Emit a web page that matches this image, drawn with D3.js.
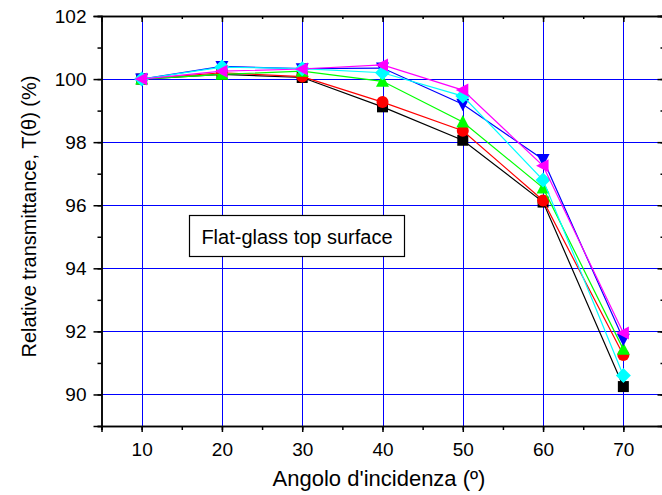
<!DOCTYPE html>
<html>
<head>
<meta charset="utf-8">
<script src="https://cdn.jsdelivr.net/npm/d3@7"></script>
<style>
	body { margin: 0; background: #fff; }
	svg text { font-family: "Liberation Sans", Arial, sans-serif; fill: #000; }
</style>
</head>
<body>
<svg id="chart" width="662" height="495"></svg>
<script>

// data
var angles = [10, 20, 30, 40, 50, 60, 70];
var s_black   = [100.0, 100.15, 100.05, 99.12, 98.06, 96.1, 90.25];
var s_red     = [100.0, 100.2, 100.08, 99.27, 98.36, 96.15, 91.25];
var s_green   = [100.0, 100.15, 100.25, 99.93, 98.64, 96.55, 91.43];
var s_blue    = [100.0, 100.4, 100.33, 100.35, 99.2, 97.45, 91.75];
var s_cyan    = [100.0, 100.38, 100.33, 100.2, 99.46, 96.8, 90.6];
var s_magenta = [100.0, 100.25, 100.32, 100.45, 99.65, 97.25, 91.95];

var xTicks = [10, 20, 30, 40, 50, 60, 70];
var yTicks = [90, 92, 94, 96, 98, 100, 102];

var series = [
	{ values: s_black,   color: "#000000", shape: "square" },
	{ values: s_red,     color: "#ff0000", shape: "circle" },
	{ values: s_green,   color: "#00ff00", shape: "up" },
	{ values: s_blue,    color: "#0000ff", shape: "down" },
	{ values: s_cyan,    color: "#00ffff", shape: "diamond" },
	{ values: s_magenta, color: "#ff00ff", shape: "left" }
];

var svg = d3.select("#chart");
var pLeft = 101.5, pRight = 663.5, pTop = 16, pBottom = 426;

var x = d3.scaleLinear().domain([5, 75]).range([pLeft, pRight]);
var y = d3.scaleLinear().domain([89, 102]).range([pBottom, pTop]);

// grid
var grid = svg.append("g");
grid.selectAll(".gx").data(xTicks).enter().append("line")
	.attr("x1", function(d) { return Math.round(x(d)) + 0.5; })
	.attr("x2", function(d) { return Math.round(x(d)) + 0.5; })
	.attr("y1", pTop).attr("y2", pBottom)
	.attr("stroke", "#0000ff").attr("stroke-width", 1);
grid.selectAll(".gy").data(yTicks.filter(function(d) { return d < 102; })).enter().append("line")
	.attr("y1", function(d) { return Math.round(y(d)) + 0.5; })
	.attr("y2", function(d) { return Math.round(y(d)) + 0.5; })
	.attr("x1", pLeft).attr("x2", pRight)
	.attr("stroke", "#0000ff").attr("stroke-width", 1);

// axes
var xMinor = d3.range(5, 76, 5);
var yMinor = d3.range(89, 102.1, 1);

var bottomAxis = d3.axisBottom(x).tickValues(xTicks).tickSize(6).tickPadding(11).tickFormat(d3.format("d"));
var bottomMinor = d3.axisBottom(x).tickValues(xMinor).tickSize(4).tickFormat("");
var leftAxis = d3.axisLeft(y).tickValues(yTicks).tickSize(8).tickPadding(7).tickFormat(d3.format("d"));
var leftMinor = d3.axisLeft(y).tickValues(yMinor).tickSize(4).tickFormat("");
var topAxis = d3.axisBottom(x).tickValues(xTicks).tickSize(6).tickFormat("");
var topMinor = d3.axisBottom(x).tickValues(xMinor).tickSize(3).tickFormat("");
var rightAxis = d3.axisLeft(y).tickValues(yTicks).tickSize(6).tickFormat("");
var rightMinor = d3.axisLeft(y).tickValues(yMinor).tickSize(3).tickFormat("");

function styleAxis(g) {
	g.attr("font-size", 19).attr("font-family", "Liberation Sans, Arial, sans-serif");
	g.selectAll("path").attr("stroke", "#000").attr("stroke-width", 1.5);
	g.selectAll("line").attr("stroke", "#000").attr("stroke-width", 1.5);
	g.selectAll("text").style("font-size", "19px");
}

svg.append("g").attr("transform", "translate(0," + pBottom + ")").call(bottomMinor).call(styleAxis);
svg.append("g").attr("transform", "translate(0," + pBottom + ")").call(bottomAxis).call(styleAxis);
svg.append("g").attr("transform", "translate(" + pLeft + ",0)").call(leftMinor).call(styleAxis);
svg.append("g").attr("transform", "translate(" + pLeft + ",0)").call(leftAxis).call(styleAxis);
svg.append("g").attr("transform", "translate(0," + pTop + ")").call(topMinor).call(styleAxis);
svg.append("g").attr("transform", "translate(0," + pTop + ")").call(topAxis).call(styleAxis);
svg.append("g").attr("transform", "translate(" + pRight + ",0)").call(rightMinor).call(styleAxis);
svg.append("g").attr("transform", "translate(" + pRight + ",0)").call(rightAxis).call(styleAxis);

// series
var line = d3.line()
	.x(function(d, i) { return x(angles[i]); })
	.y(function(d) { return y(d); });

function markerPath(shape) {
	if (shape == "square") return "M-5.5,-5.5H5.5V5.5H-5.5Z";
	if (shape == "up") return "M0,-7L6.5,5.5L-6.5,5.5Z";
	if (shape == "down") return "M0,7L6.5,-5.5L-6.5,-5.5Z";
	if (shape == "diamond") return "M0,-7.5L7.5,0L0,7.5L-7.5,0Z";
	if (shape == "left") return "M-7,0L5.5,-6.5L5.5,6.5Z";
	return null;
}

series.forEach(function(s) {
	var g = svg.append("g");
	g.append("path")
		.attr("d", line(s.values))
		.attr("fill", "none")
		.attr("stroke", s.color)
		.attr("stroke-width", 1.2);
	var pts = g.selectAll(".pt").data(s.values).enter();
	if (s.shape == "circle") {
		pts.append("circle")
			.attr("cx", function(d, i) { return x(angles[i]); })
			.attr("cy", function(d) { return y(d); })
			.attr("r", 6)
			.attr("fill", s.color);
	} else {
		pts.append("path")
			.attr("d", markerPath(s.shape))
			.attr("transform", function(d, i) { return "translate(" + x(angles[i]) + "," + y(d) + ")"; })
			.attr("fill", s.color);
	}
});

// label box
var box = svg.append("g");
box.append("rect")
	.attr("x", 189.5).attr("y", 215.5)
	.attr("width", 215).attr("height", 41)
	.attr("fill", "#fff").attr("stroke", "#000").attr("stroke-width", 1.2);
box.append("text")
	.attr("x", 297).attr("y", 244)
	.attr("text-anchor", "middle")
	.style("font-size", "20px")
	.text("Flat-glass top surface");

// axis titles
svg.append("text")
	.attr("x", 379).attr("y", 486)
	.attr("text-anchor", "middle")
	.style("font-size", "22px")
	.text("Angolo d'incidenza (º)");

svg.append("text")
	.attr("transform", "translate(36," + 216.5 + ") rotate(-90)")
	.attr("text-anchor", "middle")
	.style("font-size", "20px")
	.text("Relative transmittance, T(θ) (%)");

</script>
</body>
</html>
